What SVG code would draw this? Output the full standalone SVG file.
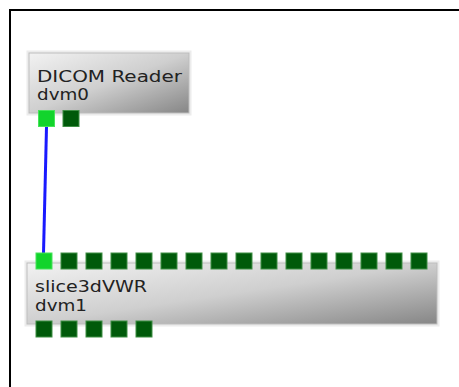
<svg xmlns="http://www.w3.org/2000/svg" width="459" height="387" viewBox="0 0 459 387">
<defs>
<linearGradient id="g" x1="0" y1="0" x2="1" y2="1">
<stop offset="0" stop-color="#f2f2f2"/>
<stop offset="0.5" stop-color="#cfcfcf"/>
<stop offset="1" stop-color="#868686"/>
</linearGradient>
</defs>
<style>
.box{fill:url(#g);stroke:#bdbdbd;stroke-width:1}
.shadow{fill:none;stroke:#ececec;stroke-width:3}
.t{font-family:"DejaVu Sans",sans-serif;font-size:15px;fill:#222}
.p{fill:#005a0a;stroke:#3f8f45;stroke-width:1}
.pa{fill:#12d42c;stroke:#47e35a;stroke-width:1}
</style>
<rect width="459" height="387" fill="#fff"/>
<path d="M10,387 V10 H459" fill="none" stroke="#000" stroke-width="2"/>
<g id="connectors">
<line x1="46.5" y1="127" x2="43.5" y2="253" stroke="#1a1aff" stroke-width="3"/>
</g>
<g id="dvm0">
<rect class="shadow" x="28" y="52" width="162" height="62"/>
<rect class="box" x="29" y="53" width="160" height="60"/>
<text class="t" x="37" y="82" textLength="145" lengthAdjust="spacingAndGlyphs">DICOM Reader</text>
<text class="t" x="37" y="99.5" textLength="52" lengthAdjust="spacingAndGlyphs">dvm0</text>
<rect class="pa" x="38.5" y="110.5" width="16" height="16"/>
<rect class="p" x="63" y="110.5" width="16" height="16"/>
</g>
<g id="dvm1">
<rect class="shadow" x="26" y="262" width="412" height="63"/>
<rect class="box" x="27" y="263" width="410" height="61"/>
<text class="t" x="35" y="292" textLength="112" lengthAdjust="spacingAndGlyphs">slice3dVWR</text>
<text class="t" x="35" y="311" textLength="52" lengthAdjust="spacingAndGlyphs">dvm1</text>
<rect class="pa" x="36" y="253" width="16" height="16"/>
<rect class="p" x="61" y="253" width="16" height="16"/>
<rect class="p" x="86" y="253" width="16" height="16"/>
<rect class="p" x="111" y="253" width="16" height="16"/>
<rect class="p" x="136" y="253" width="16" height="16"/>
<rect class="p" x="161" y="253" width="16" height="16"/>
<rect class="p" x="186" y="253" width="16" height="16"/>
<rect class="p" x="211" y="253" width="16" height="16"/>
<rect class="p" x="236" y="253" width="16" height="16"/>
<rect class="p" x="261" y="253" width="16" height="16"/>
<rect class="p" x="286" y="253" width="16" height="16"/>
<rect class="p" x="311" y="253" width="16" height="16"/>
<rect class="p" x="336" y="253" width="16" height="16"/>
<rect class="p" x="361" y="253" width="16" height="16"/>
<rect class="p" x="386" y="253" width="16" height="16"/>
<rect class="p" x="411" y="253" width="16" height="16"/>
<rect class="p" x="36" y="321" width="16" height="16"/>
<rect class="p" x="61" y="321" width="16" height="16"/>
<rect class="p" x="86" y="321" width="16" height="16"/>
<rect class="p" x="111" y="321" width="16" height="16"/>
<rect class="p" x="136" y="321" width="16" height="16"/>
</g>
</svg>
